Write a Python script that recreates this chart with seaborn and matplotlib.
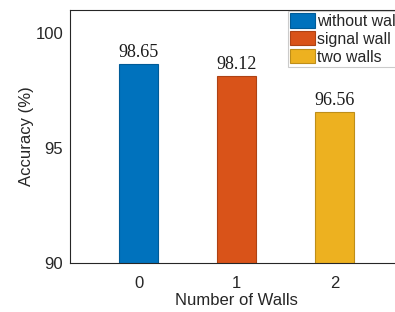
import matplotlib
matplotlib.use("Agg")
import matplotlib.pyplot as plt
import matplotlib.colors as mcolors
import seaborn as sns
import pandas as pd

# --------------------------------------------------------------
# datos
# --------------------------------------------------------------
walls = ["0", "1", "2"]
labels = ["without wall", "signal wall", "two walls"]
accuracy = [98.65, 98.12, 96.56]
colors = ["#0072BD", "#D95319", "#EDB120"]

df = pd.DataFrame({"walls": walls, "accuracy": accuracy, "label": labels})

sns.set_style("white")
plt.rcParams["font.family"] = ["Liberation Sans", "DejaVu Sans"]

fig = plt.figure(figsize=(3.95, 3.12), dpi=100)
# the axes run a little past the right edge of the figure, like the reference
ax = fig.add_axes([70 / 395, 49 / 312, 333 / 395, 253 / 312])

sns.barplot(data=df, x="walls", y="accuracy", hue="label", hue_order=labels,
            palette=colors, dodge=False, width=0.4, legend=False, ax=ax,
            saturation=1)

# bordes un poco mas oscuros
for cont, col in zip(ax.containers, colors):
    r, g, b = mcolors.to_rgb(col)
    for p in cont.patches:
        p.set_edgecolor((r * 0.8, g * 0.8, b * 0.8))
        p.set_linewidth(0.8)
    ax.bar_label(cont, fmt="%.2f", padding=2, fontsize=13,
                 fontfamily="Liberation Serif", color="#1a1a1a")

ax.set_xlim(-0.7, 2.7)
ax.set_ylim(90, 101)
ax.set_yticks([90, 95, 100])
ax.set_xlabel("Number of Walls", fontsize=12, color="#262626", labelpad=2)
ax.set_ylabel("Accuracy (%)", fontsize=12, color="#262626", labelpad=1)
ax.tick_params(direction="in", length=4, width=0.6, colors="#262626",
               labelsize=12)
ax.tick_params(axis="x", pad=9)
ax.tick_params(axis="y", pad=5)
for s in ax.spines.values():
    s.set_visible(True)
    s.set_color("#262626")
    s.set_linewidth(0.8)

handles = [c.patches[0] for c in ax.containers]
leg = fig.legend(handles, labels, loc="upper left",
                 bbox_to_anchor=(288 / 395, 1 - 11 / 312),
                 borderaxespad=0, fontsize=11.4, frameon=True, fancybox=False,
                 handlelength=1.55, handleheight=1.0, handletextpad=0.15,
                 labelspacing=0.15, borderpad=0.15)
leg.get_frame().set_edgecolor("#bfbfbf")
leg.get_frame().set_linewidth(0.8)

fig.savefig("out.png", dpi=100)
